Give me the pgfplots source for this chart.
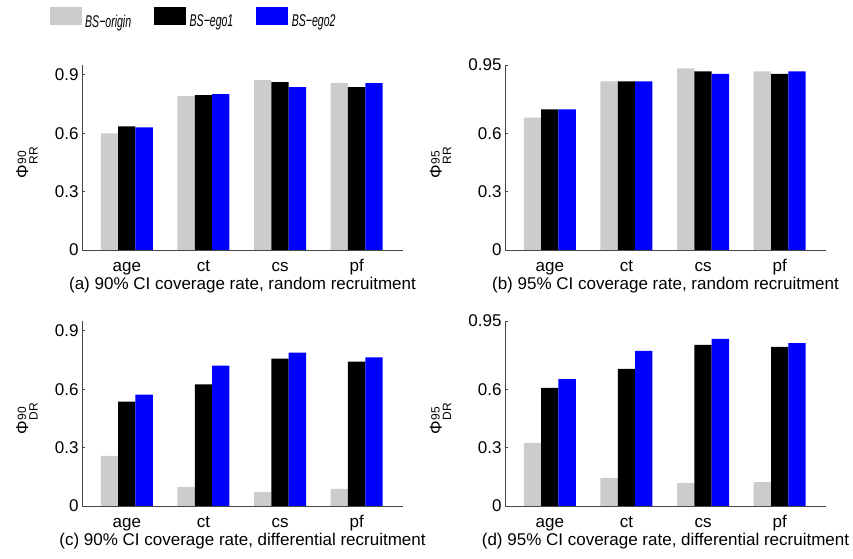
\documentclass[border=0pt]{standalone}
\usepackage{fontspec}
\setmainfont{Liberation Sans}
\usepackage{graphicx}
\usepackage{pgfplots}
\pgfplotsset{compat=1.18}
\definecolor{bsgray}{RGB}{204,204,204}
\definecolor{bsblue}{RGB}{0,0,255}
\definecolor{axgray}{RGB}{70,70,70}

\newcommand{\philab}[2]{Φ\kern0.5pt\makebox[0pt][l]{\raisebox{2pt}{\fontsize{12}{12}\selectfont #1}}\raisebox{-9.5pt}{\fontsize{12}{12}\selectfont #2}}
\newcommand{\legtxt}[1]{\fontsize{17}{19}\selectfont\itshape\scalebox{0.62}[1]{#1}}

\pgfplotsset{
  panel/.style={
    scale only axis, width=321pt, height=185pt,
    ybar=0pt, bar width=0.226,
    xmin=0.415, xmax=4.605, ymin=0, ymax=0.95,
    axis x line=bottom, axis y line=left,
    axis line style={-, draw=axgray, line width=0.8pt},
    xtick={1,2,3,4}, xticklabels={age,ct,cs,pf},
    x tick style={draw=none},
    y tick style={draw=axgray, line width=0.8pt},
    major tick length=3pt, tick align=inside,
    tick label style={font=\fontsize{17}{20}\selectfont},
    xticklabel style={anchor=base, yshift=-21pt},
    xlabel style={at={(axis description cs:0.5,0)}, anchor=base, yshift=-39.5pt, font=\fontsize{17}{20}\selectfont},
    ylabel style={anchor=center, font=\fontsize{17}{20}\selectfont},
    axis on top,
    clip=false,
  },
  p90/.style={ytick={0,0.3,0.6,0.9}, yticklabels={0,0.3,0.6,0.9},
    ylabel style={at={(axis description cs:-0.171,0.473)}}},
  p95/.style={ytick={0,0.3,0.6,0.95}, yticklabels={0,0.3,0.6,0.95},
    ylabel style={at={(axis description cs:-0.201,0.473)}}},
}

\begin{document}
\begin{tikzpicture}
\useasboundingbox (0,0) rectangle (853pt,558pt);

% (a)
\begin{axis}[panel, p90, at={(82pt,308pt)}, anchor=south west,
  xlabel={(a) 90\% CI coverage rate, random recruitment},
  ylabel={\philab{90}{RR}},
  legend columns=3,
  legend style={at={(axis description cs:-0.1006,1.3135)}, anchor=north west,
    draw=none, fill=none, inner sep=0pt, outer sep=0pt,
    nodes={inner sep=0pt},
    /tikz/every odd column/.append style={column sep=3.5pt},
    /tikz/every even column/.append style={column sep=23pt}},
  legend image code/.code={\fill[#1] (0pt,-3pt) rectangle (32pt,14.7pt);},
]
\addplot[fill=bsgray, draw=none] coordinates {(1,0.599) (2,0.790) (3,0.872) (4,0.857)};
\addplot[fill=black, draw=none] coordinates {(1,0.635) (2,0.795) (3,0.862) (4,0.836)};
\addplot[fill=bsblue, draw=none] coordinates {(1,0.630) (2,0.800) (3,0.836) (4,0.857)};
\addlegendentry{\legtxt{BS−origin}}
\addlegendentry{\legtxt{BS−ego1}}
\addlegendentry{\legtxt{BS−ego2}}
\end{axis}

% (b)
\begin{axis}[panel, p95, at={(505pt,308pt)}, anchor=south west,
  xlabel={(b) 95\% CI coverage rate, random recruitment},
  ylabel={\philab{95}{RR}}]
\addplot[fill=bsgray, draw=none] coordinates {(1,0.680) (2,0.866) (3,0.933) (4,0.917)};
\addplot[fill=black, draw=none] coordinates {(1,0.722) (2,0.866) (3,0.917) (4,0.904)};
\addplot[fill=bsblue, draw=none] coordinates {(1,0.722) (2,0.866) (3,0.904) (4,0.917)};
\end{axis}

% (c)
\begin{axis}[panel, p90, at={(82pt,52pt)}, anchor=south west,
  xlabel={(c) 90\% CI coverage rate, differential recruitment},
  ylabel={\philab{90}{DR}}]
\addplot[fill=bsgray, draw=none] coordinates {(1,0.258) (2,0.098) (3,0.072) (4,0.088)};
\addplot[fill=black, draw=none] coordinates {(1,0.536) (2,0.624) (3,0.757) (4,0.742)};
\addplot[fill=bsblue, draw=none] coordinates {(1,0.572) (2,0.721) (3,0.788) (4,0.763)};
\end{axis}

% (d)
\begin{axis}[panel, p95, at={(505pt,52pt)}, anchor=south west,
  xlabel={(d) 95\% CI coverage rate, differential recruitment},
  ylabel={\philab{95}{DR}}]
\addplot[fill=bsgray, draw=none] coordinates {(1,0.324) (2,0.144) (3,0.118) (4,0.123)};
\addplot[fill=black, draw=none] coordinates {(1,0.606) (2,0.704) (3,0.827) (4,0.817)};
\addplot[fill=bsblue, draw=none] coordinates {(1,0.652) (2,0.796) (3,0.858) (4,0.837)};
\end{axis}
\end{tikzpicture}
\end{document}
